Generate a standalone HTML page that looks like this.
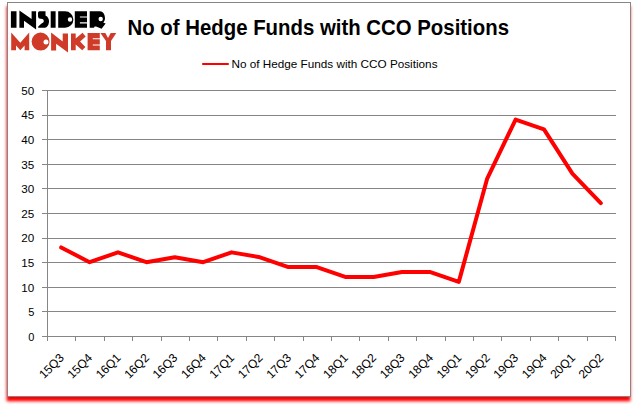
<!DOCTYPE html><html><head><meta charset="utf-8"><style>
html,body{margin:0;padding:0;background:#fff;width:637px;height:408px;overflow:hidden}
svg{display:block;font-family:"Liberation Sans",sans-serif}
</style></head><body>
<svg width="637" height="408" viewBox="0 0 637 408">
<defs><filter id="sh" x="-10%" y="-10%" width="120%" height="120%"><feGaussianBlur stdDeviation="1.7"/></filter></defs>
<rect x="6.6" y="6" width="623.8" height="395.3" fill="#ff0000" filter="url(#sh)"/>
<rect x="7" y="2" width="624" height="395" fill="#fff"/>
<rect x="7.5" y="2.5" width="623" height="394" fill="none" stroke="#868686" stroke-width="1"/>
<path d="M42 336.5H616 M42 311.5H616 M42 287.5H616 M42 262.5H616 M42 238.5H616 M42 213.5H616 M42 188.5H616 M42 164.5H616 M42 139.5H616 M42 115.5H616 M42 90.5H616" stroke="#868686" stroke-width="1" fill="none"/>
<path d="M47.5 90.0V336.0 M47.5 336.0V341 M75.5 336.0V341 M104.5 336.0V341 M132.5 336.0V341 M161.5 336.0V341 M189.5 336.0V341 M217.5 336.0V341 M246.5 336.0V341 M274.5 336.0V341 M303.5 336.0V341 M331.5 336.0V341 M359.5 336.0V341 M388.5 336.0V341 M416.5 336.0V341 M445.5 336.0V341 M473.5 336.0V341 M501.5 336.0V341 M530.5 336.0V341 M558.5 336.0V341 M587.5 336.0V341 M615.5 336.0V341" stroke="#868686" stroke-width="1" fill="none"/>
<text x="34.3" y="340.8" font-size="11" text-anchor="end" fill="#000">0</text>
<text x="34.3" y="316.2" font-size="11" text-anchor="end" fill="#000">5</text>
<text x="34.3" y="291.6" font-size="11" text-anchor="end" fill="#000" textLength="13" lengthAdjust="spacingAndGlyphs">10</text>
<text x="34.3" y="267.0" font-size="11" text-anchor="end" fill="#000" textLength="13" lengthAdjust="spacingAndGlyphs">15</text>
<text x="34.3" y="242.4" font-size="11" text-anchor="end" fill="#000" textLength="13" lengthAdjust="spacingAndGlyphs">20</text>
<text x="34.3" y="217.8" font-size="11" text-anchor="end" fill="#000" textLength="13" lengthAdjust="spacingAndGlyphs">25</text>
<text x="34.3" y="193.2" font-size="11" text-anchor="end" fill="#000" textLength="13" lengthAdjust="spacingAndGlyphs">30</text>
<text x="34.3" y="168.6" font-size="11" text-anchor="end" fill="#000" textLength="13" lengthAdjust="spacingAndGlyphs">35</text>
<text x="34.3" y="144.0" font-size="11" text-anchor="end" fill="#000" textLength="13" lengthAdjust="spacingAndGlyphs">40</text>
<text x="34.3" y="119.4" font-size="11" text-anchor="end" fill="#000" textLength="13" lengthAdjust="spacingAndGlyphs">45</text>
<text x="34.3" y="94.8" font-size="11" text-anchor="end" fill="#000" textLength="13" lengthAdjust="spacingAndGlyphs">50</text>
<text x="64.70" y="358.60" font-size="12" text-anchor="end" transform="rotate(-45 64.70 358.60)" fill="#000">15Q3</text>
<text x="93.10" y="358.60" font-size="12" text-anchor="end" transform="rotate(-45 93.10 358.60)" fill="#000">15Q4</text>
<text x="121.50" y="358.60" font-size="12" text-anchor="end" transform="rotate(-45 121.50 358.60)" fill="#000">16Q1</text>
<text x="149.90" y="358.60" font-size="12" text-anchor="end" transform="rotate(-45 149.90 358.60)" fill="#000">16Q2</text>
<text x="178.30" y="358.60" font-size="12" text-anchor="end" transform="rotate(-45 178.30 358.60)" fill="#000">16Q3</text>
<text x="206.70" y="358.60" font-size="12" text-anchor="end" transform="rotate(-45 206.70 358.60)" fill="#000">16Q4</text>
<text x="235.10" y="358.60" font-size="12" text-anchor="end" transform="rotate(-45 235.10 358.60)" fill="#000">17Q1</text>
<text x="263.50" y="358.60" font-size="12" text-anchor="end" transform="rotate(-45 263.50 358.60)" fill="#000">17Q2</text>
<text x="291.90" y="358.60" font-size="12" text-anchor="end" transform="rotate(-45 291.90 358.60)" fill="#000">17Q3</text>
<text x="320.30" y="358.60" font-size="12" text-anchor="end" transform="rotate(-45 320.30 358.60)" fill="#000">17Q4</text>
<text x="348.70" y="358.60" font-size="12" text-anchor="end" transform="rotate(-45 348.70 358.60)" fill="#000">18Q1</text>
<text x="377.10" y="358.60" font-size="12" text-anchor="end" transform="rotate(-45 377.10 358.60)" fill="#000">18Q2</text>
<text x="405.50" y="358.60" font-size="12" text-anchor="end" transform="rotate(-45 405.50 358.60)" fill="#000">18Q3</text>
<text x="433.90" y="358.60" font-size="12" text-anchor="end" transform="rotate(-45 433.90 358.60)" fill="#000">18Q4</text>
<text x="462.30" y="358.60" font-size="12" text-anchor="end" transform="rotate(-45 462.30 358.60)" fill="#000">19Q1</text>
<text x="490.70" y="358.60" font-size="12" text-anchor="end" transform="rotate(-45 490.70 358.60)" fill="#000">19Q2</text>
<text x="519.10" y="358.60" font-size="12" text-anchor="end" transform="rotate(-45 519.10 358.60)" fill="#000">19Q3</text>
<text x="547.50" y="358.60" font-size="12" text-anchor="end" transform="rotate(-45 547.50 358.60)" fill="#000">19Q4</text>
<text x="575.90" y="358.60" font-size="12" text-anchor="end" transform="rotate(-45 575.90 358.60)" fill="#000">20Q1</text>
<text x="604.30" y="358.60" font-size="12" text-anchor="end" transform="rotate(-45 604.30 358.60)" fill="#000">20Q2</text>
<polyline points="61.20,247.44 89.60,262.20 118.00,252.36 146.40,262.20 174.80,257.28 203.20,262.20 231.60,252.36 260.00,257.28 288.40,267.12 316.80,267.12 345.20,276.96 373.60,276.96 402.00,272.04 430.40,272.04 458.80,281.88 487.20,178.56 515.60,119.52 544.00,129.36 572.40,173.64 600.80,203.16" fill="none" stroke="#ff0000" stroke-width="4" stroke-linejoin="round" stroke-linecap="round"/>
<text x="127.5" y="35" font-size="22.5" font-weight="bold" textLength="381.5" lengthAdjust="spacingAndGlyphs" fill="#000">No of Hedge Funds with CCO Positions</text>
<path d="M203 64H228" stroke="#ff0000" stroke-width="2.1" stroke-linecap="round"/>
<text x="231.5" y="67.5" font-size="11" textLength="206" lengthAdjust="spacingAndGlyphs" fill="#000">No of Hedge Funds with CCO Positions</text>
<path fill="#000" fill-rule="evenodd" d="M10.9 11.2H16.5V27.7H10.9Z M19.4 10.4L31.6 19V11.2H36.1V29.6L24 20.7V27.7H19.4Z M39.5 11.2H45.5V15.4C48 16.5 49 18.8 49 21.3C49 25 47 27.7 45 27.7H38.2V26.6L41.5 23.5C43 23 43.8 22 43.8 21C43.8 19.6 42.6 18.7 41 18.7H40.3C38.8 18.7 38 17.5 38 16V13.5C38 12 38.7 11.2 39.5 11.2Z M50.7 11.2H55.6V27.7H50.7Z M58.2 11.2H65.1A8.3 8.3 0 0 1 65.1 27.8H58.2Z M72.2 19.5A2.2 2.2 0 1 0 67.8 19.5A2.2 2.2 0 1 0 72.2 19.5Z M74.8 11.3H87V16.4H79.9V17.5H87V22.3H79.9V23.4H87V27.8H74.8Z M89.7 11.2H99.9C103 11.2 105 14.5 105 18.2C105 20 104.2 21.5 103.2 22.6L105.6 23.4L101.6 28.8L96 26.6H94.6L94 27.7H89.7Z M102.9 19A2.2 2.2 0 1 0 98.5 19A2.2 2.2 0 1 0 102.9 19Z"/>
<path fill="#cf3b28" fill-rule="evenodd" d="M11.2 32.4L20.3 42.7L29.2 32.4V50.2H24.6V45.4L20.3 50.2L16 45.4V50.2H11.2Z M49.6 41.6A9 9 0 1 0 31.6 41.6A9 9 0 1 0 49.6 41.6Z M48.5 41.9A2.5 2.5 0 1 0 43.5 41.9A2.5 2.5 0 1 0 48.5 41.9Z M51.1 32.5L62.7 41.6V33.4H68V52.6L56.1 43.8V50.4H51.1Z M71 33.4H75.7V38.6L82.5 32.8L85.7 36.4L80.1 41.6L85.4 46.9L82.2 50.2L75.7 44.5V50.2H71Z M87.6 33.1H99.8V38.2H92.8V39.3H99.8V44.4H92.8V45.5H99.8V50.2H87.6Z M100.4 33.1H105.4L108 38.1L110.7 33.1H116.3L111 41V50.2H106V41Z"/>
</svg></body></html>
